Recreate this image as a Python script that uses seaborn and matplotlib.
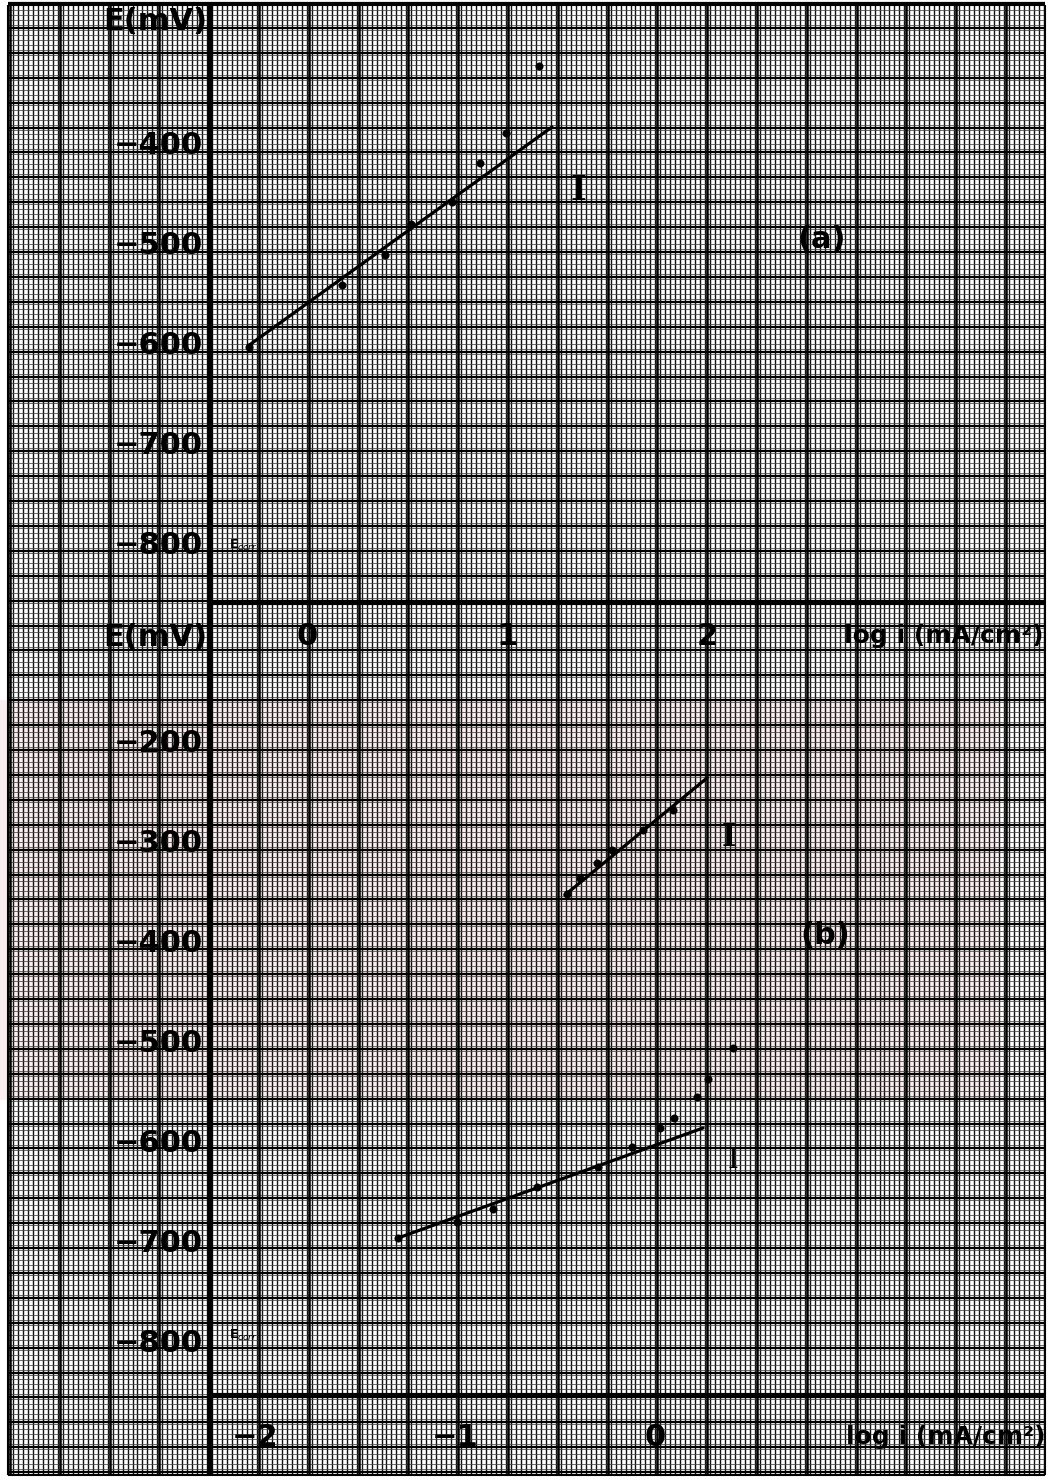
import numpy as np
import pandas as pd
import matplotlib
matplotlib.use("Agg")
import matplotlib.pyplot as plt
from matplotlib.patches import Rectangle
import seaborn as sns

# ---------------- data ----------------
# panel (a): log i (mA/cm^2) vs E (mV)
a_logi = [-0.29, 0.175, 0.39, 0.52, 0.725, 0.865, 0.995, 1.16]
a_E = [-604, -542, -512, -481, -459, -420, -390, -323]
a_fit_logi = [-0.295, 1.225]
a_fit_E = [-603, -384]

# panel (b), upper curve
b2_logi = [-0.44, -0.375, -0.29, -0.215, -0.06, 0.09]
b2_E = [-354, -338, -323, -310, -290, -270]
b2_fit_logi = [-0.45, 0.26]
b2_fit_E = [-355, -238]

# panel (b), lower curve
b1_logi = [-1.285, -0.99, -0.81, -0.59, -0.285, -0.115, 0.025, 0.095, 0.21, 0.265, 0.39]
b1_E = [-698, -682, -669, -647, -627, -607, -588, -578, -557, -539, -508]
b1_fit_logi = [-1.285, 0.24]
b1_fit_E = [-698, -588]

a_yticks = [-400, -500, -600, -700, -800]
a_xticks = [0, 1, 2]
b_yticks = [-200, -300, -400, -500, -600, -700, -800]
b_xticks = [-2, -1, 0]

def lab(v):
    return str(v).replace("-", "\u2212")

sns.set_style("white")
plt.rcParams["font.family"] = ["DejaVu Sans"]
plt.rcParams["text.color"] = "black"
plt.rcParams["xtick.color"] = "black"
plt.rcParams["ytick.color"] = "black"

W, H = 1049, 1480
fig = plt.figure(figsize=(W / 100, H / 100), dpi=100)
fig.patch.set_facecolor("white")

# ---------------- graph paper background (pixel coords) ----------------
bg = fig.add_axes([0, 0, 1, 1])
bg.set_xlim(0, W)
bg.set_ylim(H, 0)
bg.axis("off")
L, R, T, B = 8, 1045, 5, 1475
bg.add_patch(Rectangle((0, 700), 1000, 400, color="#f6dde1", alpha=0.5, lw=0, zorder=0))
fx = np.arange(L, R + 0.1, 4.98)
fy = np.arange(T, B + 0.1, 4.98)
bg.vlines(fx, T, B, color="#111111", lw=1.0, zorder=1)
bg.hlines(fy, L, R, color="#444444", lw=0.55, zorder=1)
mx = np.arange(10, R + 0.1, 49.8)
my = np.arange(3, B + 0.1, 24.9)
bg.vlines(mx, T, B, color="black", lw=1.8, zorder=2)
bg.hlines(my, L, R, color="black", lw=1.6, zorder=2)
bg.vlines([L, R], T, B, color="black", lw=1.5, zorder=2)
bg.hlines([T, B], L, R, color="black", lw=1.5, zorder=2)
# main axes lines
bg.vlines([210], T, B, color="black", lw=4.0, zorder=3)
bg.hlines([603, 1395], 210, R, color="black", lw=3.0, zorder=3)

def fig_rect(x0, y0, x1, y1):
    return [x0 / W, 1 - y1 / H, (x1 - x0) / W, (y1 - y0) / H]

tick_font = dict(fontsize=22, fontweight="bold", color="black")

# ---------------- panel (a) ----------------
ax_a = fig.add_axes(fig_rect(210, 5, 1040, 603))
ax_a.patch.set_alpha(0)
ax_a.set_xlim((210 - 307) / 200, (1040 - 307) / 200)
ax_a.set_ylim(-400 - (603 - 143), -400 + (143 - 5))
df_a = pd.DataFrame({"logi": a_logi, "E": a_E})
df_af = pd.DataFrame({"logi": a_fit_logi, "E": a_fit_E})
sns.lineplot(data=df_af, x="logi", y="E", ax=ax_a, color="black", lw=2.3, zorder=5)
sns.scatterplot(data=df_a, x="logi", y="E", ax=ax_a, color="black", s=28, edgecolor="black", zorder=6)

# ---------------- panel (b) ----------------
ax_b = fig.add_axes(fig_rect(210, 603, 1040, 1395))
ax_b.patch.set_alpha(0)
ax_b.set_xlim((210 - 655) / 200, (1040 - 655) / 200)
ax_b.set_ylim(-200 - (1395 - 740), -200 + (740 - 603))
df_b1 = pd.DataFrame({"logi": b1_logi, "E": b1_E})
df_b1f = pd.DataFrame({"logi": b1_fit_logi, "E": b1_fit_E})
df_b2 = pd.DataFrame({"logi": b2_logi, "E": b2_E})
df_b2f = pd.DataFrame({"logi": b2_fit_logi, "E": b2_fit_E})
sns.lineplot(data=df_b1f, x="logi", y="E", ax=ax_b, color="black", lw=2.3, zorder=5)
sns.lineplot(data=df_b2f, x="logi", y="E", ax=ax_b, color="black", lw=2.3, zorder=5)
sns.scatterplot(data=df_b1, x="logi", y="E", ax=ax_b, color="black", s=28, edgecolor="black", zorder=6)
sns.scatterplot(data=df_b2, x="logi", y="E", ax=ax_b, color="black", s=28, edgecolor="black", zorder=6)

for ax, xt, yt, xpad in [(ax_a, a_xticks, a_yticks, 14), (ax_b, b_xticks, b_yticks, 20)]:
    for s in ax.spines.values():
        s.set_visible(False)
    ax.set_xlabel("")
    ax.set_ylabel("")
    ax.set_xticks(xt)
    ax.set_xticklabels([lab(v) for v in xt], **tick_font)
    ax.set_yticks(yt)
    ax.set_yticklabels([lab(v) for v in yt], **tick_font)
    ax.tick_params(axis="x", length=0, pad=xpad)
    ax.tick_params(axis="y", length=0, pad=5)

def ftext(x, y, s, **kw):
    fig.text(x / W, 1 - y / H, s, ha="center", va="center", color="black", **kw)

ftext(155, 22, "E(mV)", fontsize=22, fontweight="bold")
ftext(155, 637, "E(mV)", fontsize=22, fontweight="bold")
ftext(944, 636, "log i (mA/cm\u00b2)", fontsize=18, fontweight="bold")
ftext(946, 1437, "log i (mA/cm\u00b2)", fontsize=18, fontweight="bold")
ftext(822, 240, "(a)", fontsize=22, fontweight="bold")
ftext(825, 935, "(b)", fontsize=22, fontweight="bold")
ftext(243, 545, "E$_{corr}$", fontsize=9, fontweight="bold")
ftext(243, 1335, "E$_{corr}$", fontsize=9, fontweight="bold")
ftext(578, 190, "I", fontsize=24, fontweight="bold", family=["DejaVu Serif"])
ftext(729, 838, "I", fontsize=22, fontweight="bold", family=["DejaVu Serif"])
ftext(733, 1160, "I", fontsize=20, family=["DejaVu Serif"])

fig.savefig("out.png", dpi=100, facecolor="white")
